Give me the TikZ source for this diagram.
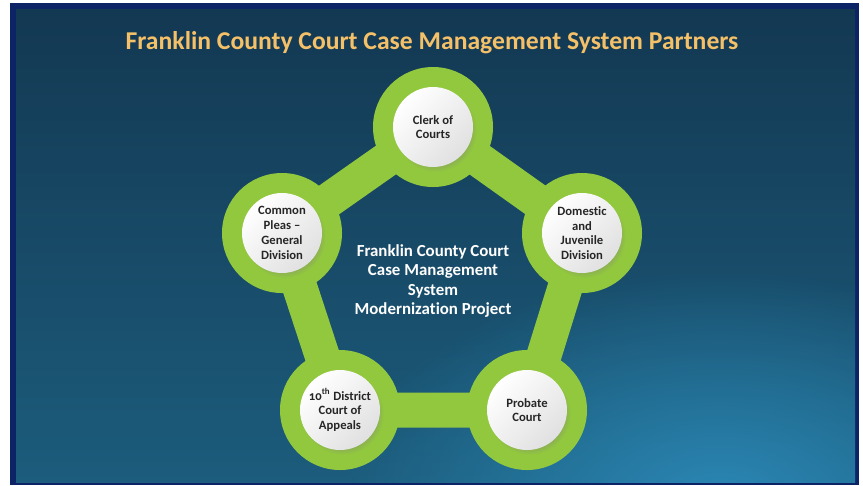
\documentclass[tikz,border=0pt]{standalone}
\usepackage{fontspec}
\setmainfont{Carlito}[Ligatures=NoCommon]
\usetikzlibrary{backgrounds,shadows,fadings}
\definecolor{frameNavy}{RGB}{12,36,102}
\definecolor{bgTop}{RGB}{19,56,82}
\definecolor{bgBottom}{RGB}{28,92,124}
\definecolor{bgGlow}{RGB}{44,140,186}
\definecolor{titleGold}{RGB}{244,192,104}
\definecolor{ringGreen}{RGB}{146,200,62}
\tikzfading[name=glowFade,inner color=transparent!0,outer color=transparent!100]

\begin{document}
\begin{tikzpicture}[x=0.2mm,y=-0.2mm,
    partnerNode/.style={circle,minimum size=16mm,inner sep=0pt,align=center,
        font=\fontsize{7.2}{8.4}\selectfont\bfseries,text=black!85,
        top color=white,bottom color=black!12,shading angle=45,
        circular drop shadow={shadow xshift=0.5mm,shadow yshift=-0.7mm,shadow scale=1.03,opacity=0.3}},
    partnerBand/.style={ringGreen,line width=7mm},
    partnerRing/.style={fill=ringGreen},
]
\useasboundingbox (0,0) rectangle (863,485);
% Title
\node[font=\fontsize{14.6}{17}\selectfont\bfseries,text=titleGold] (title) at (432,43)
    {Franklin County Court Case Management System Partners};
% Partner circles
\node[partnerNode] (clerk) at (433,127) {Clerk of\\Courts};
\node[partnerNode] (domestic) at (582,233) {Domestic\\and\\Juvenile\\Division};
\node[partnerNode] (probate) at (527,410) {Probate\\Court};
\node[partnerNode] (appeals) at (340,410) {{\addfontfeatures{Numbers=OldStyle}10}\textsuperscript{th} District\\Court of\\Appeals};
\node[partnerNode] (pleas) at (282,233) {Common\\Pleas --\\General\\Division};
% Project in the middle
\node[font=\fontsize{9.6}{10.9}\selectfont\bfseries,text=white,align=center] (project) at (433,281)
    {Franklin County Court\\Case Management\\System\\Modernization Project};
\begin{scope}[on background layer]
% Frame and backdrop
\fill[white] (0,0) rectangle (863,485);
\fill[frameNavy] (10,3) rectangle (859,485);
\shade[top color=bgTop,bottom color=bgBottom] (16,9) rectangle (855,482);
\begin{scope}
\clip (16,9) rectangle (855,482);
\fill[bgGlow,path fading=glowFade,fill opacity=0.9]
    (720,500) ellipse[x radius=380,y radius=230];
\end{scope}
% Green ring joining the partners
\draw[partnerBand] (clerk.center) -- (domestic.center) -- (probate.center)
    -- (appeals.center) -- (pleas.center) -- cycle;
\foreach \p in {clerk,domestic,probate,appeals,pleas}
    \fill[partnerRing] (\p) circle[radius=12mm];
\end{scope}
\end{tikzpicture}
\end{document}
